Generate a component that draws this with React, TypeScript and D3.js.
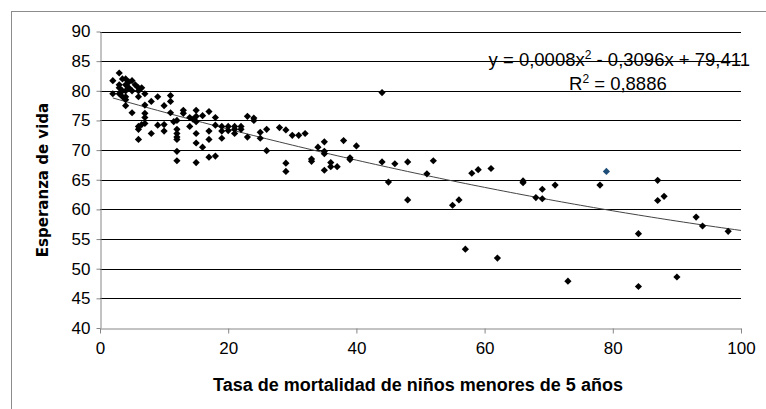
import React, { useEffect, useRef } from 'react';
import * as d3 from 'd3';

// mortality under 5 (x) vs life expectancy (y)
const mortalidad = [
  2, 2, 3, 3, 3, 3, 3.5, 3.5, 3.5, 4, 4, 4, 4, 4, 4, 4.5, 4.5, 5, 5, 5, 5.5, 6, 6, 6, 6, 6, 6, 6.5, 6.5,
  7, 7, 7, 7, 7, 8, 8, 9, 9, 10, 10, 10,
  11, 11, 11, 11.5, 12, 12, 12, 12, 12, 12, 12, 13, 13, 14, 14, 14.5, 15, 15, 15, 15, 15, 15, 16, 16,
  17, 17, 17, 17, 18, 18, 18, 19, 19, 19, 20, 20,
  21, 21, 21, 22, 22, 23, 23, 24, 24, 25, 25, 26, 26, 28, 29, 29, 29, 30, 31, 32,
  33, 33, 34, 35, 35, 35, 35, 36, 36, 37, 38, 39, 39, 40,
  44, 44, 45, 46, 48, 48, 51, 52, 55, 56, 57, 58, 59, 61, 62, 66, 66, 68, 69, 69, 71, 73, 78,
  84, 84, 87, 87, 88, 90, 93, 94, 98,
];
const esperanza = [
  81.7, 79.5, 83, 81, 80.5, 79.5, 82, 80, 79, 82, 81, 80, 79, 78.5, 77.5, 81.5, 80.5, 81.7, 80, 76.3, 81, 80.5, 80, 79, 74, 73.5, 71.8, 80.5, 74.3,
  79.5, 77.6, 76.2, 75.5, 74.5, 78.2, 72.8, 79, 74.2, 77.5, 74.3, 73.2,
  79.2, 78.2, 76.3, 74.8, 75, 73.5, 72.8, 72.2, 71.8, 69.8, 68.2, 76.7, 76.2, 75.5, 74, 75.2, 76.7, 75.7, 74.8, 72.8, 71.2, 67.9, 75.8, 70.5,
  76.5, 73.2, 71.8, 68.8, 75.5, 74.2, 69, 74, 73.2, 72, 74, 73.3,
  74, 73.5, 72.8, 74, 73.5, 75.7, 72.2, 75.4, 75, 72, 73, 73.5, 69.9, 73.8, 73.4, 67.8, 66.4, 72.5, 72.5, 72.8,
  68.5, 68.1, 70.5, 71.4, 69.8, 69.4, 66.6, 67.9, 67.2, 67.2, 71.6, 68.7, 68.4, 70.7,
  79.7, 68, 64.6, 67.7, 68, 61.6, 66, 68.2, 60.7, 61.6, 53.3, 66.1, 66.7, 66.9, 51.8, 64.8, 64.5, 62, 63.4, 61.8, 64.1, 47.9, 64.1,
  55.9, 47, 64.9, 61.5, 62.2, 48.6, 58.7, 57.2, 56.3,
];
// the single point drawn in blue
const puntoAzul = [79, 66.4];

const xTicks = [0, 20, 40, 60, 80, 100];
const yTicks = [40, 45, 50, 55, 60, 65, 70, 75, 80, 85, 90];
const coef = [0.0008, -0.3096, 79.411];

const App: React.FC = () => {
  const ref = useRef<SVGSVGElement | null>(null);

  useEffect(() => {
    if (!ref.current) return;
    const svg = d3.select(ref.current);
    svg.selectAll('*').remove();

    const x = d3.scaleLinear().domain([0, 100]).range([100, 741]);
    const y = d3.scaleLinear().domain([40, 90]).range([328, 31.5]);
    const font = "'Liberation Sans', Arial, sans-serif";

    svg.append('rect')
      .attr('x', 11.5).attr('y', 11.5).attr('width', 800).attr('height', 500)
      .attr('fill', 'white').attr('stroke', '#8c8c8c');

    // horizontal gridlines
    svg.selectAll('line.grid')
      .data(yTicks.filter((d) => d > 40))
      .enter()
      .append('line')
      .attr('class', 'grid')
      .attr('x1', x(0)).attr('x2', x(100))
      .attr('y1', (d) => Math.round(y(d)) + 0.5).attr('y2', (d) => Math.round(y(d)) + 0.5)
      .attr('stroke', '#000').attr('stroke-width', 1.2);

    const xAxis = svg.append('g')
      .attr('transform', `translate(0,${Math.round(y(40)) + 0.5})`)
      .call(d3.axisBottom(x).tickValues(xTicks).tickSize(5).tickSizeOuter(0).tickPadding(8));
    const yAxis = svg.append('g')
      .attr('transform', `translate(${Math.round(x(0)) + 0.5},0)`)
      .call(d3.axisLeft(y).tickValues(yTicks).tickSize(4).tickSizeOuter(0).tickPadding(6));
    [xAxis, yAxis].forEach((a) => {
      a.select('.domain').attr('stroke', '#868686');
      a.selectAll('.tick line').attr('stroke', '#868686');
      a.selectAll('.tick text').attr('font-family', font).attr('font-size', 17).attr('fill', '#000');
    });

    // trend line
    const f = (v: number) => coef[0] * v * v + coef[1] * v + coef[2];
    const xs = d3.range(2, 100.01, 1);
    svg.append('path')
      .datum(xs)
      .attr('fill', 'none')
      .attr('stroke', '#444')
      .attr('stroke-width', 1)
      .attr('d', d3.line<number>().x((d) => x(d)).y((d) => y(f(d))));

    const r = 3.6;
    const diamond = (px: number, py: number) =>
      `M${px},${py - r}L${px + r},${py}L${px},${py + r}L${px - r},${py}Z`;

    svg.selectAll('path.pt')
      .data(mortalidad.map((m, i) => [m, esperanza[i]]))
      .enter()
      .append('path')
      .attr('class', 'pt')
      .attr('d', (d) => diamond(x(d[0]), y(d[1])))
      .attr('fill', '#000');

    svg.append('path')
      .attr('d', diamond(x(puntoAzul[0]), y(puntoAzul[1])))
      .attr('fill', '#1f4e79');

    svg.append('text')
      .attr('x', 750).attr('y', 66)
      .attr('text-anchor', 'end')
      .attr('font-family', font).attr('font-size', 18.5)
      .html('y = 0,0008x<tspan dy="-7" font-size="12">2</tspan><tspan dy="7"> - 0,3096x + 79,411</tspan>');
    svg.append('text')
      .attr('x', 569).attr('y', 90)
      .attr('font-family', font).attr('font-size', 18.5)
      .html('R<tspan dy="-7" font-size="12">2</tspan><tspan dy="7"> = 0,8886</tspan>');

    svg.append('text')
      .attr('x', 418).attr('y', 391)
      .attr('text-anchor', 'middle')
      .attr('font-family', font).attr('font-size', 18).attr('font-weight', 'bold')
      .text('Tasa de mortalidad de niños menores de 5 años');
    svg.append('text')
      .attr('transform', `translate(48,180) rotate(-90)`)
      .attr('text-anchor', 'middle')
      .attr('font-family', "'DejaVu Sans', Verdana, sans-serif").attr('font-size', 15).attr('font-weight', 'bold')
      .text('Esperanza de vida');
  }, []);

  return (
    <svg ref={ref} width={766} height={409} style={{ position: 'fixed', left: 0, top: 0 }}></svg>
  );
};

export default App;
